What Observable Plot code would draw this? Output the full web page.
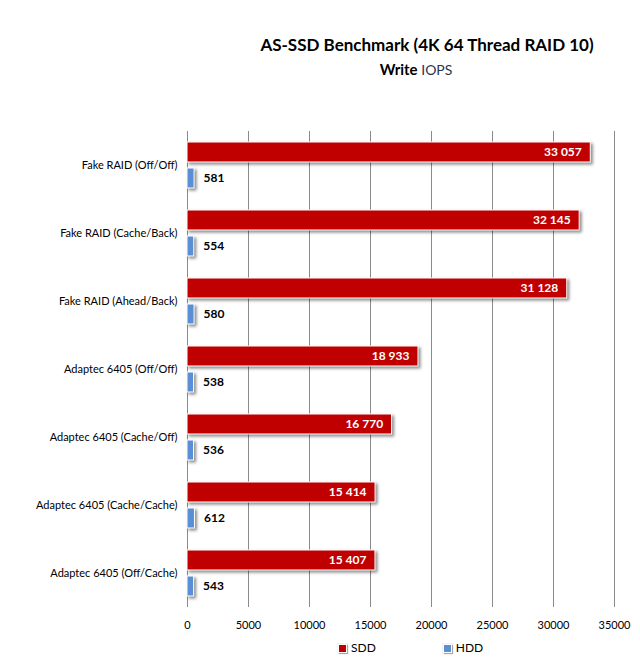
<!DOCTYPE html>
<html><head><meta charset="utf-8">
<script src="https://cdn.jsdelivr.net/npm/d3@7"></script>
<script src="https://cdn.jsdelivr.net/npm/@observablehq/plot@0.6"></script>
<style>
body{margin:0;background:#fff;font-family:Lato,"Open Sans",sans-serif;}
#wrap{position:relative;width:640px;height:660px;overflow:hidden;}
#title{position:absolute;left:227px;width:400px;top:34px;text-align:center;font-size:17px;font-weight:bold;color:#000;line-height:22px;}
#subtitle{position:absolute;left:216px;width:400px;top:60px;text-align:center;font-size:14px;color:#000;line-height:18px;}
#subtitle b{font-size:15px;}
#subtitle span{color:#2a3550;}
#chart{position:absolute;left:0;top:110px;}
#legend{position:absolute;left:338px;top:640px;display:flex;gap:67px;font-size:12px;line-height:16px;}
#legend .it{display:flex;align-items:center;gap:4px;}
#legend .sw{width:7px;height:7px;display:inline-block;box-shadow:1px 1px 1px rgba(0,0,0,0.3);border:1px solid #fff;outline:1px solid rgba(0,0,0,0.05);}
g[aria-label="bar"] rect{filter:drop-shadow(2px 2px 1.5px rgba(0,0,0,0.45));}
</style>
</head><body>
<div id="wrap">
  <div id="title">AS-SSD Benchmark (4K 64 Thread RAID 10)</div>
  <div id="subtitle"><b>Write</b> <span>IOPS</span></div>
  <div id="chart"></div>
  <div id="legend"></div>
</div>
<script>
const categories = ["Fake RAID (Off/Off)", "Fake RAID (Cache/Back)", "Fake RAID (Ahead/Back)", "Adaptec 6405 (Off/Off)", "Adaptec 6405 (Cache/Off)", "Adaptec 6405 (Cache/Cache)", "Adaptec 6405 (Off/Cache)"];
const sddValues = [33057, 32145, 31128, 18933, 16770, 15414, 15407];
const hddValues = [581, 554, 580, 538, 536, 612, 543];
const series = ["SDD", "HDD"];
const seriesColors = ["#c00000", "#5a8fd6"];
const xTicks = [0, 5000, 10000, 15000, 20000, 25000, 30000, 35000];

const data = [];
categories.forEach((c, i) => {
  data.push({category: c, series: "SDD", value: sddValues[i]});
  data.push({category: c, series: "HDD", value: hddValues[i]});
});
const loc = d3.formatLocale({decimal: ",", thousands: "\u00a0", grouping: [3], currency: ["", ""]});
const fmt = loc.format(",d");

const chart = Plot.plot({
  width: 640,
  height: 525,
  marginLeft: 187,
  marginRight: 26,
  marginTop: 20,
  marginBottom: 28,
  style: {fontFamily: "Lato, 'Open Sans', sans-serif", fontSize: "11px", color: "#000", background: "#fff"},
  x: {domain: [0, 35000], ticks: xTicks, tickFormat: d => String(d), tickSize: 0, tickPadding: 14, label: null},
  fy: {domain: categories, padding: 0, label: null, tickSize: 0, tickPadding: 10},
  y: {domain: series, paddingInner: 0.23, paddingOuter: 0.4, axis: null},
  color: {domain: series, range: seriesColors},
  marks: [
    Plot.gridX(xTicks, {stroke: "#8a8a8a", strokeOpacity: 1, strokeWidth: 1}),
    Plot.barX(data, {x: "value", y: "series", fy: "category", fill: "series", stroke: "#fff", strokeWidth: 1}),
    Plot.text(data.filter(d => d.series === "SDD"), {x: "value", y: "series", fy: "category", text: d => fmt(d.value), textAnchor: "end", dx: -9, fill: "#fff", fontWeight: "bold", fontSize: 12}),
    Plot.text(data.filter(d => d.series === "HDD"), {x: "value", y: "series", fy: "category", text: d => fmt(d.value), textAnchor: "start", dx: 9, fill: "#000", fontWeight: "bold", fontSize: 12})
  ]
});
document.getElementById("chart").appendChild(chart);

const legend = document.getElementById("legend");
series.forEach((s, i) => {
  const it = document.createElement("div");
  it.className = "it";
  const sw = document.createElement("span");
  sw.className = "sw";
  sw.style.background = seriesColors[i];
  const t = document.createElement("span");
  t.textContent = s;
  it.appendChild(sw); it.appendChild(t);
  legend.appendChild(it);
});
</script>
</body></html>
